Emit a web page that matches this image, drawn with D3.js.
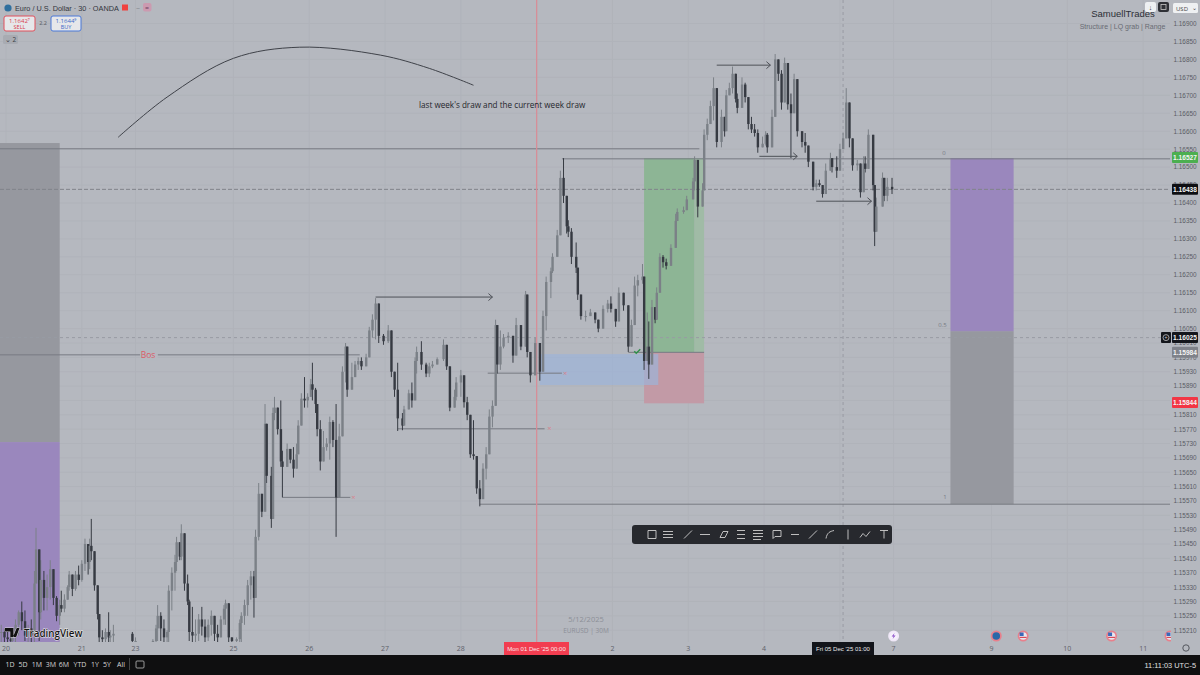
<!DOCTYPE html>
<html><head><meta charset="utf-8">
<style>html,body{margin:0;padding:0;background:#b5b8bf;overflow:hidden}svg{display:block}text{font-family:"Open Sans","Liberation Sans",sans-serif}.ls{font-family:"Liberation Sans",sans-serif}</style>
<script src="https://cdn.jsdelivr.net/npm/d3@7/dist/d3.min.js"></script>
</head><body><svg id="c" width="1200" height="675"></svg>
<script>
// Bar number (30-minute bars counted from 20 Nov), and prices in points above 1.15000
const barIndex=[-3,-1,1,3,4,6,8,10,12,14,16,18,19,21,22,24,26,28,30,32,
34,35,37,39,40,42,44,46,48,50,52,53,54,56,58,59,61,63,65,66,
68,80,82,93,95,96,98,100,102,103,105,107,108,110,111,113,115,116,118,120,
122,124,126,128,130,132,134,136,138,139,141,143,146,148,149,151,153,155,157,158,
160,162,164,165,168,169,170,172,174,175,178,180,182,184,185,187,189,191,193,194,
196,197,199,201,203,205,207,209,211,213,215,216,219,221,223,225,228,230,232,234,
236,239,242,244,246,248,251,252,255,257,259,260,263,266,268,270,273,277,279,281,
284,285,288,290,292,294,296,298,300,302,304,306,308,310,311,313,315,318,321,323,
326,329,330,332,335,338,340,342,345,346,349,351,353,355,356,358,361,362,364,367,
370,373,375,378,381,383,386,388,391,394,396,398,400,403,404,406,407,409,411,412,
414,416,418,421,424,425,429,431,435,436,438,441,442,444,446,448,450,453,455,456,
458,460,462,463,466,468,470,472,474,476,479,481,482,485,487,489,491,493,495,497,
499,501,504,506,508,511,513,515,517,519,522,523,526,528,530,532,534,536,539,541,
543,544,546,549,550,551,555,556,558,561];
const highs=[225,215,205,195,210,240,265,290,265,225,240,375,495,365,405,375,365,405,375,305,
295,320,310,335,375,365,375,390,405,465,420,465,520,415,325,240,210,215,260,210,
225,205,190,185,225,280,260,240,210,335,385,420,470,445,505,420,365,295,275,240,
255,275,240,240,265,245,225,250,280,295,280,190,190,240,260,295,350,375,375,490,
620,580,840,720,665,830,860,800,850,710,730,705,720,730,795,870,915,870,910,955,
885,815,795,765,745,805,795,840,785,945,1010,915,955,960,970,970,980,1055,1090,1135,
1065,1035,1060,970,925,955,815,835,880,900,970,1000,1015,955,955,960,970,1020,990,935,
880,915,935,900,860,805,795,685,628,675,720,825,850,1075,1000,1045,1035,1040,1010,1080,
1015,1155,1055,970,1025,995,1100,1195,1220,1260,1325,1490,1525,1410,1352,1330,1290,1210,1130,1100,
1105,1095,1075,1115,1130,1140,1100,1165,1150,1110,1075,1195,1200,1230,1185,1095,1070,1130,1100,1165,
1260,1255,1245,1285,1370,1385,1390,1420,1470,1530,1445,1455,1605,1635,1685,1750,1660,1660,1640,1715,
1735,1780,1735,1705,1750,1735,1685,1640,1620,1605,1585,1600,1595,1660,1815,1795,1770,1805,1770,1705,
1760,1735,1595,1595,1530,1500,1465,1465,1445,1510,1540,1520,1530,1565,1595,1720,1630,1575,1520,1490,
1530,1530,1605,1590,1415,1415,1485,1440,1470,1470];
const lows=[175,175,175,175,175,175,195,210,180,175,175,175,340,180,240,265,265,295,280,235,
225,260,260,295,320,305,320,335,345,375,365,380,405,320,240,175,175,175,175,175,
175,175,175,175,175,180,180,175,175,175,265,320,375,405,405,320,280,180,175,175,
180,195,175,180,195,180,175,195,225,225,175,175,175,175,175,225,250,295,245,335,
460,525,675,620,495,730,795,755,665,580,680,675,635,680,730,815,830,830,860,850,
815,750,655,685,710,685,720,470,590,785,900,860,900,925,935,935,955,1020,1025,1020,
1010,1005,1010,915,860,765,767,790,825,830,900,925,935,915,915,940,955,960,935,820,
830,850,860,830,795,690,685,590,555,590,630,710,775,840,925,935,995,1010,955,980,
990,1015,970,900,955,905,945,1045,1135,1205,1250,1350,1400,1315,1305,1230,1205,1130,1075,1070,
1085,1065,1040,1090,1095,1095,1055,1075,1100,985,1045,1120,1140,1175,935,980,910,1000,1065,1085,
1195,1220,1215,1250,1305,1365,1370,1390,1430,1435,1360,1415,1490,1575,1630,1630,1555,1555,1585,1630,
1705,1705,1680,1650,1705,1680,1605,1595,1585,1540,1555,1560,1540,1575,1715,1740,1660,1735,1660,1525,
1695,1585,1555,1540,1500,1435,1435,1445,1415,1445,1500,1485,1470,1520,1555,1620,1555,1490,1490,1415,
1455,1485,1500,1435,1280,1345,1400,1405,1405,1425];
const closes=[205,190,185,180,200,225,260,235,195,215,195,340,435,260,350,300,330,380,300,250,
280,270,295,330,365,325,365,350,395,450,400,445,430,335,255,190,185,205,190,195,
200,180,180,180,215,250,215,190,205,320,370,400,455,415,480,340,290,205,195,200,
240,220,190,225,250,200,190,240,270,285,190,180,185,230,250,280,335,360,300,470,
590,540,785,640,520,815,830,770,680,665,715,685,660,700,780,855,850,860,895,880,
840,770,680,720,730,790,740,580,750,930,1000,880,915,950,960,945,970,1045,1075,1120,
1030,1015,1045,930,880,800,780,825,870,850,960,985,950,925,945,950,965,1005,945,830,
860,900,920,845,810,700,695,605,575,660,700,805,835,1060,950,1000,1025,1030,975,1060,
1000,1145,985,920,1010,930,1085,1180,1210,1250,1310,1470,1420,1335,1320,1250,1220,1145,1085,1085,
1095,1075,1050,1105,1120,1105,1070,1150,1115,1000,1060,1170,1185,1195,960,1000,950,1110,1075,1150,
1250,1235,1225,1275,1350,1375,1380,1410,1460,1520,1390,1435,1590,1620,1670,1720,1570,1640,1600,1700,
1720,1760,1690,1665,1730,1695,1620,1605,1595,1555,1565,1590,1555,1640,1800,1760,1680,1790,1675,1650,
1745,1600,1570,1560,1515,1445,1455,1450,1425,1490,1525,1500,1490,1550,1580,1680,1580,1505,1510,1430,
1510,1495,1590,1450,1320,1390,1470,1420,1445,1438];

// Axes
const dayLabels=["20","21","23","25","26","27","28","2","3","4","7","9","10","11"];
const dayBars=[0,48,82,144,192,240,288,384,432,480,562,624,672,720];
const gridDays=[0,48,82,144,192,240,288,336,384,432,480,528,562,624,672,720];
const priceTicksA=[1900,1850,1800,1750,1700,1650,1600,1550,1500,1450,1400,1350,1300,1250,1200,1150,1100,1050];
const priceTicksB=[1010,970,930,890,850,810,770,730,690,650,610,570,530,490,450,410,370,330,290,250,210];
const rangeButtons=["1D","5D","1M","3M","6M","YTD","1Y","5Y","All"];

// Price tags: value, fill
const tagValues=[1527,1438,1025,984,844];
const tagFills=["#4caf50","#0d0e12","#14161c","#7f828a","#f23645"];

// Drawings, in [from bar, to bar, top price, bottom price]
const zoneGray=[[-8,34,1567,734],[598,638,1043,561]];
const zonePurple=[[-8,34,734,170],[598,638,1525,1043]];
const zoneGreen=[[404,436,1525,984]];
const zoneGreenPale=[[436,442,1525,984]];
const zoneRed=[[404,442,984,842]];
const zoneBlue=[[338,413,979,893]];
// Flat lines: [from bar, to bar, price]
const levels=[[-8,439,1551],[352,737,1523],[-8,85,977],[96,224,977],[300,737,561],[305,352,926],[248,341,771],[175,218,580],[394,442,984]];
const arrows=[[234,308,1138],[450,484,1784],[477,501,1530],[513,548,1405]];
const crossMarks=[[354,926],[344,771],[220,580]];
const arcBars=[71,102,144,186,237,268,296];
const arcPrices=[1583,1695,1803,1834,1812,1775,1728];
const eventBars=[562,627,644,700,737];

const svg=d3.select("#c");
const W=1170,H=642;
const x=d3.scaleLinear().domain([0,737]).range([6,1170]);
const price=v=>1.15+v/1e5;
const y=d3.scaleLinear().domain([price(1900),price(210)]).range([23.5,630.2]);
const yv=v=>y(price(v));

svg.append("rect").attr("width",1200).attr("height",675).attr("fill","#b5b8bf");
svg.append("defs").append("clipPath").attr("id","plot").append("rect").attr("width",W).attr("height",H);
const g=svg.append("g").attr("clip-path","url(#plot)");

// grid
g.selectAll(".gv").data(gridDays).join("line").attr("x1",d=>x(d)).attr("x2",d=>x(d)).attr("y1",0).attr("y2",H).attr("stroke","#b0b3ba");
g.selectAll(".gh").data(priceTicksA.concat(priceTicksB)).join("line").attr("x1",0).attr("x2",W).attr("y1",d=>yv(d)).attr("y2",d=>yv(d)).attr("stroke","#b0b3ba");

function zones(data,fill){
  g.selectAll(null).data(data).join("rect").attr("x",d=>x(d[0])).attr("width",d=>x(d[1])-x(d[0]))
   .attr("y",d=>yv(d[2])).attr("height",d=>yv(d[3])-yv(d[2])).attr("fill",fill);
}
zones(zoneGray,"#96989f");zones(zonePurple,"#9a87bd");zones(zoneGreen,"#8db595");zones(zoneGreenPale,"#a0bba6");zones(zoneRed,"#c29aa6");
g.selectAll(null).data(zoneBlue).join("rect").attr("x",d=>x(d[0])).attr("width",d=>x(d[1])-x(d[0]))
 .attr("y",d=>yv(d[2])).attr("height",d=>yv(d[3])-yv(d[2])).attr("fill","#9db4d8").attr("fill-opacity",.7);

// crosshair + dashed
g.append("line").attr("x1",x(530)).attr("x2",x(530)).attr("y1",0).attr("y2",H).attr("stroke","#989ba3").attr("stroke-dasharray","3 3");
g.append("line").attr("x1",0).attr("x2",W).attr("y1",yv(1025)).attr("y2",yv(1025)).attr("stroke","#989ba3").attr("stroke-dasharray","3 3");
g.append("line").attr("x1",0).attr("x2",W).attr("y1",yv(1438)).attr("y2",yv(1438)).attr("stroke","#80838b").attr("stroke-dasharray","4 2");

// levels
g.selectAll(null).data(levels).join("line").attr("x1",d=>x(d[0])).attr("x2",d=>x(d[1])).attr("y1",d=>yv(d[2])).attr("y2",d=>yv(d[2])).attr("stroke","#777a82");

// red time line
g.append("line").attr("x1",x(336)).attr("x2",x(336)).attr("y1",0).attr("y2",H).attr("stroke","#d98b96").attr("stroke-width",1.2);

// candles
const candles=barIndex.map((b,i)=>{const o=i?closes[i-1]:closes[0];const c=closes[i];return{b,o,c,h:Math.max(highs[i],o,c),l:Math.min(lows[i],o,c)}});
const col=d=>d.c>=d.o?"#7b8087":"#363a42";
const cg=g.append("g").style("filter","blur(0.4px)");
cg.selectAll(".w").data(candles).join("line").attr("x1",d=>x(d.b)).attr("x2",d=>x(d.b)).attr("y1",d=>yv(d.h)).attr("y2",d=>yv(d.l)).attr("stroke",col).attr("stroke-width",1);
cg.selectAll(".b").data(candles).join("rect").attr("x",d=>x(d.b)-1.1).attr("width",2.4).attr("y",d=>yv(Math.max(d.o,d.c))).attr("height",d=>Math.max(1,Math.abs(yv(d.o)-yv(d.c)))).attr("fill",col);

// arrows
g.selectAll(null).data(arrows).join("path").attr("fill","none").attr("stroke","#4e5158").attr("stroke-width",1)
 .attr("d",d=>{const a=x(d[0]),b=x(d[1]),v=yv(d[2]);return `M${a},${v}L${b},${v}M${b-4},${v-3.5}L${b},${v}L${b-4},${v+3.5}`});
// cross marks
g.selectAll(null).data(crossMarks).join("text").attr("x",d=>x(d[0])).attr("y",d=>yv(d[1])+2.5).attr("font-size",7.5).attr("text-anchor","middle").attr("fill","#d8808c").text("×");
// arc
g.append("path").attr("fill","none").attr("stroke","#3f4249").attr("stroke-width",1)
 .attr("d",d3.line().x(d=>x(d[0])).y(d=>yv(d[1])).curve(d3.curveCatmullRom)(d3.zip(arcBars,arcPrices)));
// check mark
g.append("path").attr("fill","none").attr("stroke","#2e8f4a").attr("stroke-width",1.4).attr("d",`M${x(394)+6},${yv(984)-1}l2,2l4,-4`);

function T(txt,px,py,size,fill,anchor,weight,parent){
  return (parent||svg).append("text").attr("x",px).attr("y",py).attr("font-size",size).attr("fill",fill).attr("text-anchor",anchor||"start").attr("font-weight",weight||400).text(txt);
}
function L(){return T.apply(null,arguments).attr("class","ls");}
// Bos label
svg.append("rect").attr("x",x(85)).attr("y",yv(977)-6).attr("width",x(96)-x(85)).attr("height",12).attr("fill","#b5b8bf");
T("Bos",148,358,8.5,"#dc5a66","middle");
T("last week's draw and the current week draw",419,108,8.15,"#25272c");
T("0",944,155,6,"#787b83","middle");
T("0.5",942.5,327,6,"#787b83","middle");
T("1",945,499,6,"#787b83","middle");
T("5/12/2025",586,622,7.5,"#8c8f97","middle");
T("EURUSD | 30M",586,633,6.5,"#8c8f97","middle");
L("SamuellTrades",1123,16.5,9.5,"#2c2f36","middle");
L("Structure | LQ grab | Range",1122.5,28.5,7,"#686b73","middle");

// header
svg.append("circle").attr("cx",8).attr("cy",8).attr("r",3.6).attr("fill","#2f6f9e");
L("Euro / U.S. Dollar · 30 · OANDA",15,10.5,7.3,"#33363d");
svg.append("rect").attr("x",122).attr("y",4.5).attr("width",6).attr("height",6).attr("fill","#f0423f");
svg.append("rect").attr("x",143).attr("y",3).attr("width",8.5).attr("height",8.5).attr("rx",2).attr("fill","#cb9ab0");
T("=",147,10,7,"#6b3f5c","middle");
T("–",138,10,8,"#85888f","middle");
svg.append("rect").attr("x",4).attr("y",16).attr("width",31).attr("height",15).attr("rx",2).attr("fill","#e6e7ea").attr("stroke","#e0505c");
svg.append("rect").attr("x",51).attr("y",16).attr("width",30).attr("height",15).attr("rx",2).attr("fill","#e6e7ea").attr("stroke","#4a78d8");
T("1.1642⁷",19.5,22.5,6,"#d8404c","middle");T("SELL",19.5,29,5.5,"#d8404c","middle");
T("1.1644⁹",66,22.5,6,"#3a68c8","middle");T("BUY",66,29,5.5,"#3a68c8","middle");
T("2.2",43,25,5.5,"#54575e","middle");
svg.append("rect").attr("x",3).attr("y",35).attr("width",15).attr("height",9).attr("rx",1.5).attr("fill","#a8abb2");
T("⌄ 2",10.5,42,6.5,"#3a3d44","middle");

// right top buttons
svg.append("rect").attr("x",1145).attr("y",2).attr("width",11).attr("height",10).attr("rx",2).attr("fill","#eef0f2");
T("↓",1150.5,10,7,"#333","middle");
svg.append("rect").attr("x",1158).attr("y",2).attr("width",11).attr("height",10).attr("rx",2).attr("fill","#2e3036");
svg.append("rect").attr("x",1161).attr("y",4.5).attr("width",5).attr("height",5).attr("fill","none").attr("stroke","#c8c8c8").attr("stroke-width",.8);
svg.append("rect").attr("x",1173).attr("y",3).attr("width",25).attr("height",10).attr("rx",1.5).attr("fill","#eef0f2");
T("USD",1176,10.5,6,"#444");T("⌄",1194,9.5,6,"#444","middle");

// price axis
const tickFmt=d3.format(".5f");
svg.selectAll(".pt").data(priceTicksA.concat(priceTicksB)).join("text").attr("class","ls").attr("x",1185).attr("y",d=>yv(d)+2.4).attr("font-size",6.4).attr("text-anchor","middle").attr("fill","#5a5d65").text(d=>tickFmt(price(d)));

// price tags
svg.selectAll(".tg").data(tagValues).join("rect").attr("x",1172).attr("width",26).attr("y",d=>yv(d)-5.5).attr("height",11).attr("rx",1).attr("fill",(d,i)=>tagFills[i]);
svg.selectAll(".tt").data(tagValues).join("text").attr("class","ls").attr("x",1185).attr("y",d=>yv(d)+2.4).attr("font-size",6.6).attr("font-weight",700).attr("text-anchor","middle").attr("fill","#f4f4f4").text(d=>tickFmt(price(d)));
svg.append("rect").attr("x",1161).attr("y",yv(1025)-5.5).attr("width",10).attr("height",11).attr("rx",1).attr("fill","#14161c");
svg.append("circle").attr("cx",1166).attr("cy",yv(1025)).attr("r",3).attr("fill","none").attr("stroke","#d8d8d8").attr("stroke-width",.7);
T("+",1166,yv(1025)+2,5,"#d8d8d8","middle");

// time axis
svg.selectAll(".dl").data(dayLabels).join("text").attr("x",(d,i)=>x(dayBars[i])).attr("y",651).attr("font-size",7).attr("text-anchor","middle").attr("fill","#5f626a").text(d=>d);
svg.append("rect").attr("x",504).attr("y",642).attr("width",65).attr("height",13).attr("fill","#f23d50");
L("Mon 01 Dec '25   00:00",536.5,651,6,"#fbe6e8","middle");
svg.append("rect").attr("x",812).attr("y",642).attr("width",62).attr("height",13).attr("fill","#12141a");
L("Fri 05 Dec '25   01:00",843,651,6,"#e8e8e8","middle");

// event icons
const evg=svg.selectAll(".ev").data(eventBars).join("g").attr("transform",d=>`translate(${x(d)},636)`);
evg.append("circle").attr("r",5.5).attr("fill",(d,i)=>i===0?"#f0e8f8":"#e8808c");
evg.append("circle").attr("r",3.8).attr("fill",(d,i)=>i===0?"#f6f0fb":i===1?"#2a68a8":"#e6e8f0");
evg.filter((d,i)=>i>1).append("rect").attr("x",-3.5).attr("y",-3.5).attr("width",4).attr("height",3.5).attr("fill","#3a68b8");
evg.filter((d,i)=>i>1).append("rect").attr("x",-3.5).attr("y",0.8).attr("width",7).attr("height",1.2).attr("fill","#d84a5a");
evg.filter((d,i)=>i===0).append("path").attr("d","M1,-3L-2,0.5H0L-1,3L2,-0.5H0z").attr("fill","#8a4ec8");
svg.append("rect").attr("x",1171).attr("y",625).attr("width",29).attr("height",17).attr("fill","#b5b8bf");
svg.selectAll(".pt2").data([210]).join("text").attr("class","ls").attr("x",1185).attr("y",d=>yv(d)+2.4).attr("font-size",6.4).attr("text-anchor","middle").attr("fill","#5a5d65").text(d=>tickFmt(price(d)));
svg.append("circle").attr("cx",1186).attr("cy",648).attr("r",3.2).attr("fill","none").attr("stroke","#54575e");

// TradingView logo
const tv=svg.append("g");
tv.append("path").attr("d","M5,628h8.5v9h-3.2v-5.6h-5.3zM19.5,628h-2.8l-3.7,9h3.2z").attr("fill","#111").attr("stroke","#eee").attr("stroke-width",.8).attr("paint-order","stroke");
T("TradingView",24,637,9.8,"#151515","start",600).attr("stroke","#eee").attr("stroke-width",1).attr("paint-order","stroke");

// floating toolbar
svg.append("rect").attr("x",632).attr("y",525).attr("width",260).attr("height",19).attr("rx",3).attr("fill","#27292e");
const toolX=[652,668,688,705,724,741,758,777,795,813,830,848,865,884];
const toolPaths=["M-4,-4h8v8h-8z","M-5,-3h10M-5,0h10M-5,3h10","M-4,4L4,-4","M-5,0h10","M-4,3L-1,-3L4,-3L1,3z","M-4,-4h8M-4,0h8M-4,4h8","M-5,-4h10M-5,-1h10M-5,2h10M-5,5h8","M-4,-4h8v6h-6l-2,2z","M-4,0h8","M-4,4L4,-4","M-4,4C-3,-2,0,-3,4,-4","M0,-5V5","M-5,3L-2,-1L1,2L5,-3","M-4,-4h8M0,-4V4"];
svg.selectAll(".tl").data(toolPaths).join("path").attr("d",d=>d).attr("transform",(d,i)=>`translate(${toolX[i]},534.5)`).attr("fill","none").attr("stroke","#cfcfcf").attr("stroke-width",.9);

// bottom bar
svg.append("rect").attr("x",0).attr("y",655).attr("width",1200).attr("height",20).attr("fill","#0f0f10");
const rbX=[10,23,37,51,64,80,95,107,121];
svg.selectAll(".rb").data(rangeButtons).join("text").attr("x",(d,i)=>rbX[i]).attr("y",667).attr("font-size",7).attr("text-anchor","middle").attr("fill","#d6d6d6").text(d=>d);
svg.append("line").attr("x1",129.5).attr("x2",129.5).attr("y1",658).attr("y2",670).attr("stroke","#444");
svg.append("rect").attr("x",136).attr("y",661).attr("width",8).attr("height",7).attr("rx",1).attr("fill","none").attr("stroke","#bbb").attr("stroke-width",.8);
L("11:11:03 UTC-5",1196,667.5,7.4,"#e0e0e0","end");
</script></body></html>
